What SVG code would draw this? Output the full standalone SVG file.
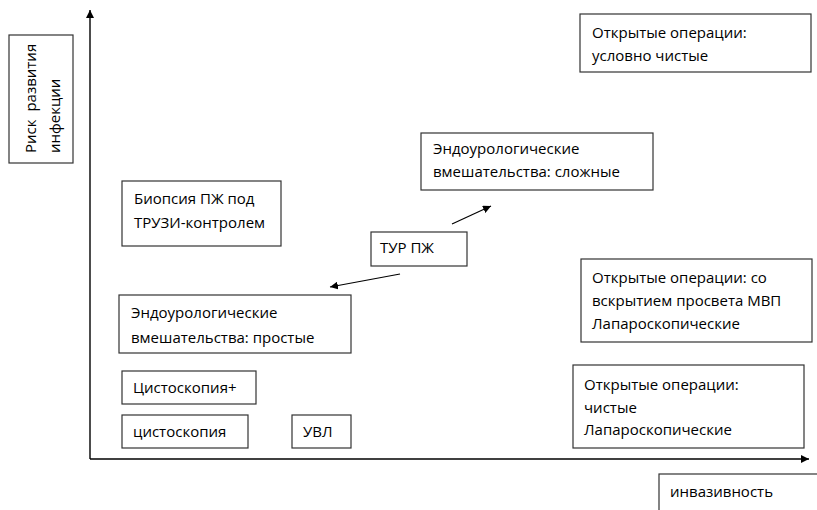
<svg xmlns="http://www.w3.org/2000/svg" width="817" height="510" viewBox="0 0 817 510">
<style>
.box{fill:#fff;stroke:#333;stroke-width:1.2}
.t{font-family:"Open Sans","Noto Sans","DejaVu Sans",sans-serif;font-size:15px;fill:#000}
.ax{stroke:#000;stroke-width:1.4;fill:none}
.ar{stroke:#000;stroke-width:1.2;fill:none}
</style>
<defs>
<marker id="ah" viewBox="0 0 10 10" refX="10" refY="5" markerWidth="8" markerHeight="8" markerUnits="userSpaceOnUse" orient="auto">
<path d="M0,0 L10,5 L0,10 z" fill="#000"/>
</marker>
</defs>
<g id="connectors">
<line class="ax" x1="90" y1="459" x2="90" y2="10" marker-end="url(#ah)"/>
<line class="ax" x1="90" y1="459" x2="809" y2="459" marker-end="url(#ah)"/>
<line class="ar" x1="452" y1="224" x2="491" y2="206" marker-end="url(#ah)"/>
<line class="ar" x1="400" y1="274" x2="330" y2="287" marker-end="url(#ah)"/>
</g>
<g id="risk">
<rect class="box" x="9" y="35" width="64" height="128"/>
<text class="t" transform="translate(36,153) rotate(-90)"><tspan x="0" y="0" word-spacing="4">Риск развития</tspan><tspan x="0" y="24">инфекции</tspan></text>
</g>
<g id="open-conditional">
<rect class="box" x="580" y="14" width="231" height="58"/>
<text class="t"><tspan x="592" y="38">Открытые операции:</tspan><tspan x="592" y="61">условно чистые</tspan></text>
</g>
<g id="endo-complex">
<rect class="box" x="421" y="133" width="232" height="57"/>
<text class="t"><tspan x="433" y="154">Эндоурологические</tspan><tspan x="433" y="177">вмешательства: сложные</tspan></text>
</g>
<g id="biopsy">
<rect class="box" x="122" y="181" width="159" height="65"/>
<text class="t"><tspan x="134" y="204">Биопсия ПЖ под</tspan><tspan x="134" y="228">ТРУЗИ-контролем</tspan></text>
</g>
<g id="tur">
<rect class="box" x="371" y="232" width="96" height="34"/>
<text class="t" x="380" y="253">ТУР ПЖ</text>
</g>
<g id="open-lumen">
<rect class="box" x="581" y="259" width="231" height="83"/>
<text class="t"><tspan x="592" y="283">Открытые операции: со</tspan><tspan x="592" y="306">вскрытием просвета МВП</tspan><tspan x="592" y="329">Лапароскопические</tspan></text>
</g>
<g id="endo-simple">
<rect class="box" x="119" y="295" width="232" height="58"/>
<text class="t"><tspan x="131" y="318">Эндоурологические</tspan><tspan x="131" y="343">вмешательства: простые</tspan></text>
</g>
<g id="cysto-plus">
<rect class="box" x="122" y="371" width="134" height="33"/>
<text class="t" x="133" y="393">Цистоскопия+</text>
</g>
<g id="cysto">
<rect class="box" x="122" y="415" width="126" height="33"/>
<text class="t" x="133" y="437">цистоскопия</text>
</g>
<g id="uvl">
<rect class="box" x="292" y="415" width="59" height="33"/>
<text class="t" x="303" y="437">УВЛ</text>
</g>
<g id="open-clean">
<rect class="box" x="573" y="365" width="231" height="83"/>
<text class="t"><tspan x="584" y="390">Открытые операции:</tspan><tspan x="584" y="413">чистые</tspan><tspan x="584" y="435">Лапароскопические</tspan></text>
</g>
<g id="invasiveness">
<rect class="box" x="659" y="474" width="170" height="50"/>
<text class="t" x="670" y="497">инвазивность</text>
</g>
</svg>
